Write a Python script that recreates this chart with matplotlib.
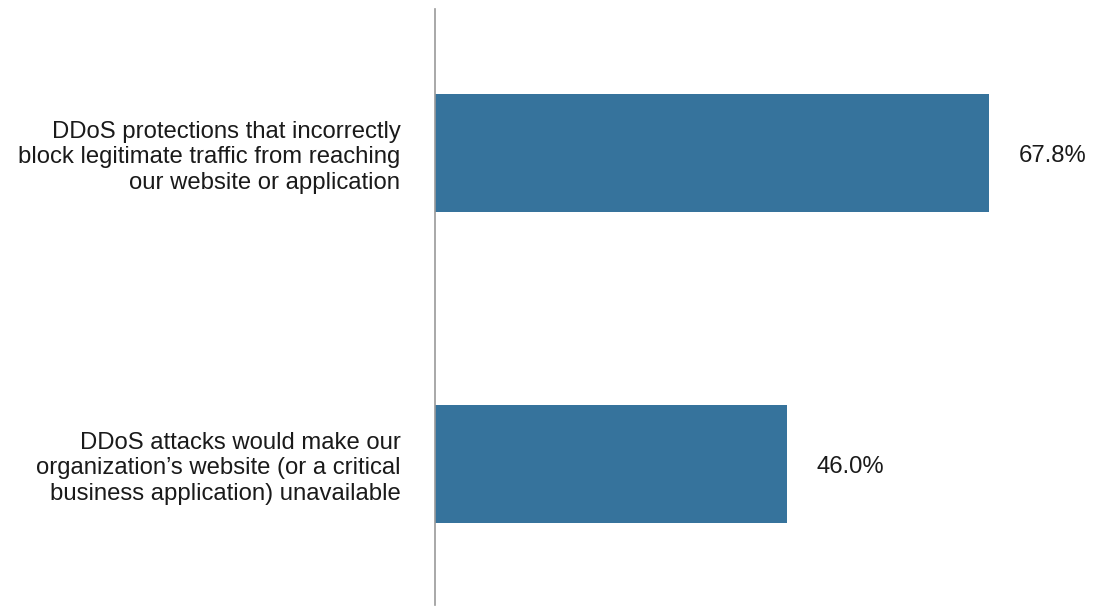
import matplotlib
matplotlib.use("Agg")
import matplotlib.pyplot as plt

categories = [
    "DDoS protections that incorrectly\nblock legitimate traffic from reaching\nour website or application",
    "DDoS attacks would make our\norganization\u2019s website (or a critical\nbusiness application) unavailable",
]
values = [67.8, 46.0]
value_labels = ["67.8%", "46.0%"]

BAR_COLOR = "#36739c"
TEXT_COLOR = "#1a1a1a"


def main() -> None:
    plt.rcParams["font.family"] = ["Liberation Sans", "DejaVu Sans"]
    fig = plt.figure(figsize=(10.94, 6.06), dpi=100)
    # axes placed to line up with the reference's vertical axis line
    ax = fig.add_axes([434.5 / 1094, 1 / 606, 1 - 434.5 / 1094, 596 / 606])

    pos = list(range(len(values)))
    ax.barh(pos, values, height=0.38, color=BAR_COLOR, zorder=2)

    # the source chart's axis does not begin at zero
    ax.set_xlim(7.9, 79.2)
    ax.set_ylim(1.453, -0.463)

    ax.set_yticks(pos)
    ax.set_yticklabels(categories, fontsize=17.2, color=TEXT_COLOR, ha="right",
                       multialignment="right", linespacing=1.21)
    ax.tick_params(axis="y", length=0, pad=24.5)
    ax.set_xticks([])

    for side in ("top", "right", "bottom"):
        ax.spines[side].set_visible(False)
    ax.spines["left"].set_color("#9a9a9a")
    ax.spines["left"].set_linewidth(1.2)
    ax.spines["left"].set_zorder(3)

    for p, v, lab in zip(pos, values, value_labels):
        ax.annotate(lab, xy=(v, p), xytext=(21.5, -2), textcoords="offset points",
                    ha="left", va="center", fontsize=17.2, color=TEXT_COLOR)

    fig.savefig("out.png", dpi=100)
    plt.close(fig)


if __name__ == "__main__":
    main()
